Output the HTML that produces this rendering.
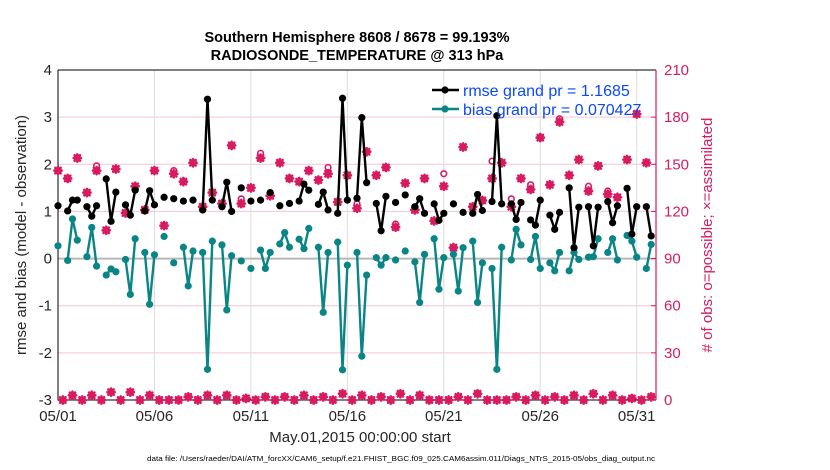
<!DOCTYPE html>
<html><head><meta charset="utf-8"><style>
html,body{margin:0;padding:0;background:#fff;}
svg{display:block;font-family:"Liberation Sans",sans-serif;}
</style></head><body>
<svg id="chart" width="830" height="470" viewBox="0 0 830 470" xmlns="http://www.w3.org/2000/svg">
<rect width="830" height="470" fill="#fff"/>
<g id="grid"></g>
<g id="axes"></g>
<g id="marks"></g>
<text x="357" y="42" text-anchor="middle" font-size="14.5" font-weight="bold" fill="#000">Southern Hemisphere 8608 / 8678 = 99.193%</text>
<text x="357" y="60" text-anchor="middle" font-size="14.5" font-weight="bold" fill="#000">RADIOSONDE_TEMPERATURE @ 313 hPa</text>
<text x="360" y="442" text-anchor="middle" font-size="15" fill="#262626">May.01,2015 00:00:00 start</text>
<text x="147" y="461" textLength="508" lengthAdjust="spacingAndGlyphs" font-size="7.5" fill="#000">data file: /Users/raeder/DAI/ATM_forcXX/CAM6_setup/f.e21.FHIST_BGC.f09_025.CAM6assim.011/Diags_NTrS_2015-05/obs_diag_output.nc</text>
<text transform="translate(26,235) rotate(-90)" text-anchor="middle" font-size="15" fill="#262626">rmse and bias (model - observation)</text>
<text transform="translate(712,235) rotate(-90)" text-anchor="middle" font-size="15" fill="#d81b60"># of obs: o=possible; ×=assimilated</text>
<g id="legend"></g>
</svg>
<script>
const N = null;
const dayTicks = [0, 5, 10, 15, 20, 25, 30];
const dayTickLabels = ["05/01","05/06","05/11","05/16","05/21","05/26","05/31"];
const leftTicks = [-3,-2,-1,0,1,2,3,4];
const rightTicks = [0,30,60,90,120,150,180,210];
const rmse = [1.12,N,1.01,1.24,1.24,N,1.10,0.90,1.12,N,1.69,0.79,1.41,N,1.14,0.92,1.45,N,1.01,1.44,1.14,N,1.30,N,1.27,N,1.22,N,1.24,N,1.03,3.38,1.24,N,1.10,1.62,1.00,N,1.50,N,1.22,N,1.24,N,1.40,N,1.12,N,1.17,N,1.22,1.58,1.45,N,1.15,1.41,1.03,N,0.96,3.40,1.24,N,1.28,2.99,1.61,N,1.17,0.59,1.32,N,1.19,N,1.35,N,1.10,1.27,0.96,N,1.16,0.81,0.96,N,1.16,N,0.98,N,0.96,1.36,1.02,N,1.21,3.03,1.16,N,1.16,0.83,1.19,N,0.82,0.71,1.24,N,0.92,0.62,0.98,N,1.50,0.23,1.09,N,1.10,0.27,1.09,N,1.21,0.76,1.12,N,1.49,0.52,1.10,N,1.10,0.48];
const bias = [0.27,N,-0.04,0.84,0.39,N,0.04,0.66,-0.16,N,-0.35,-0.22,-0.28,N,-0.02,-0.76,0.42,N,0.13,-0.97,0.08,N,0.47,N,-0.09,N,0.24,-0.58,0.16,N,0.13,-2.35,0.37,N,0.29,-1.09,0.06,N,-0.05,N,-0.21,N,0.18,-0.21,0.13,N,0.31,0.55,0.24,N,0.41,0.21,0.64,N,0.24,-1.14,0.13,N,0.35,-2.36,-0.14,N,0.13,-2.07,-0.35,N,0.02,-0.14,0.02,N,-0.03,N,0.16,N,-0.07,-0.93,0.09,N,0.42,-0.65,0.02,N,0.09,-0.69,0.23,N,0.37,-0.93,-0.09,N,-0.21,-2.35,0.24,N,-0.03,0.62,0.29,N,-0.02,0.47,-0.21,N,-0.09,-0.26,0.13,N,-0.26,0.13,-0.02,N,0.03,0.04,0.42,N,0.13,0.42,-0.03,N,0.49,0.37,0.03,N,-0.21,0.30];
const evenCounts = [146,141,154,132,146,108,147,119,136,121,146,111,144,139,151,123,132,125,162,125,135,154,130,151,141,139,146,140,144,126,143,122,158,143,148,110,138,121,141,114,136,97,161,123,127,141,151,123,141,134,167,137,177,143,153,133,149,131,129,153,182,151];
const oddCounts = [0,3,0,3,0,5,0,5,0,3,0,0,0,2,0,3,0,3,0,1,0,2,0,2,0,3,0,2,0,4,0,3,0,2,0,4,0,3,0,0,0,2,0,4,0,0,0,2,0,3,0,2,0,3,0,4,0,3,0,1,0,2];
const possibleIdx = [8,24,38,42,56,62,70,80,90,94,98,104,110,114];
const possibleExtra = [3,2,3,3,4,3,2,8,11,5,3,2,3,2];

const X0=58, X1=656, Y0=70, Y1=400;
const xS = d => X0 + d*(X1-X0)/31;
const yL = v => Y1 - (v+3)*(Y1-Y0)/7;
const yR = c => Y1 - c*(Y1-Y0)/210;
const NS="http://www.w3.org/2000/svg";
function mk(tag, attrs, parent){const e=document.createElementNS(NS,tag);for(const k in attrs)e.setAttribute(k,attrs[k]);parent.appendChild(e);return e;}
const grid=document.getElementById('grid'), axes=document.getElementById('axes'), marks=document.getElementById('marks'), legend=document.getElementById('legend');
const PINK="#d81b60", TEAL="#0a8585";

leftTicks.forEach(v=>{
  const l=mk('line',{x1:X0,x2:X1,y1:yL(v),y2:yL(v),stroke:'#f2c6d6','stroke-width':1},grid);
  
  
  const t=mk('text',{x:X0-6,y:yL(v)+5,'text-anchor':'end','font-size':15,fill:'#262626'},axes);
  t.textContent=v;
  
  
});
dayTicks.forEach((d,i)=>{
  const l=mk('line',{x1:xS(d),x2:xS(d),y1:Y0,y2:Y1,stroke:'#dcdcdc','stroke-width':1},grid);
  
  
  const t=mk('text',{x:xS(d),y:421,'text-anchor':'middle','font-size':15,fill:'#262626'},axes);
  t.textContent=dayTickLabels[i];
  
  
});
rightTicks.forEach(c=>{
  const t=mk('text',{x:X1+8,y:yR(c)+5,'text-anchor':'start','font-size':15,fill:PINK},axes);
  t.textContent=c;
  
  
  mk('line',{x1:X1-5,x2:X1,y1:yR(c),y2:yR(c),stroke:PINK},axes);
});
const zl=mk('line',{x1:X0,x2:X1,y1:yL(0),y2:yL(0),stroke:'#b8b8b8','stroke-width':2},grid);


mk('path',{d:`M${X0},${Y0}H${X1}M${X0},${Y0}V${Y1}H${X1}`,stroke:'#000',fill:'none','stroke-width':1},axes);
const ra=mk('line',{x1:X1,x2:X1,y1:Y0,y2:Y1,stroke:PINK,'stroke-width':1.2},axes);



const counts=[];
for(let i=0;i<124;i++){counts.push(i%2===0?evenCounts[i/2]:oddCounts[(i-1)/2]);}
function star(cx,cy,g){
  const r=3.6;
  mk('path',{d:`M${cx-r},${cy}H${cx+r}M${cx},${cy-r}V${cy+r}M${cx-r*0.75},${cy-r*0.75}L${cx+r*0.75},${cy+r*0.75}M${cx-r*0.75},${cy+r*0.75}L${cx+r*0.75},${cy-r*0.75}`,stroke:PINK,'stroke-width':2.6,'stroke-linecap':'round'},g);
}
counts.forEach((c,i)=>{
  const g=mk('g',{},marks);
  
  
  const pi=possibleIdx.indexOf(i);
  const pc=pi>=0?c+possibleExtra[pi]:c;
  mk('circle',{cx:xS(i*0.25),cy:yR(pc),r:2.8,fill:'#fff',stroke:PINK,'stroke-width':1.6},g);
  star(xS(i*0.25),yR(c),g);
});
function series(arr,color,name){
  let d='';let prev=false;
  arr.forEach((v,i)=>{
    if(v===null){prev=false;return;}
    d+=(prev?'L':'M')+xS(i*0.25).toFixed(1)+','+yL(v).toFixed(1);prev=true;
  });
  const p=mk('path',{d:d,stroke:color,'stroke-width':2.4,fill:'none','stroke-linejoin':'round'},marks);
  
  
  arr.forEach((v,i)=>{
    if(v===null)return;
    const c=mk('circle',{cx:xS(i*0.25),cy:yL(v),r:3.6,fill:color},marks);
    
    
  });
}
series(bias,TEAL,'bias');
series(rmse,'#000','rmse');

[['#000','rmse grand pr = 1.1685',90],[TEAL,'bias grand pr = 0.070427',109]].forEach(([c,txt,y])=>{
  const g=mk('g',{},legend);
  
  
  mk('line',{x1:432,x2:459,y1:y,y2:y,stroke:c,'stroke-width':2.4},g);
  mk('circle',{cx:445,cy:y,r:3.6,fill:c},g);
  const t=mk('text',{x:463,y:y+6,'font-size':16,fill:'#0a47ff'},g);
  t.textContent=txt;
});
</script>
</body></html>
